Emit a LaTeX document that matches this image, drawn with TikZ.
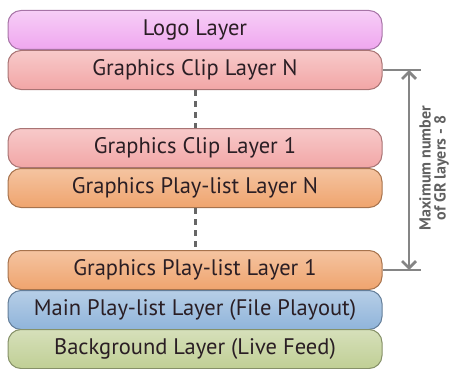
\documentclass[tikz,border=0pt]{standalone}
\usepackage{fontspec}
\setmainfont{PT Sans}
\usetikzlibrary{arrows.meta}
\definecolor{txt}{HTML}{2A1E24}
\definecolor{arrgray}{HTML}{858585}
\tikzset{
  layer/.style={draw=#1!70!black, line width=1pt, rounded corners=13pt, minimum width=374pt, minimum height=39pt, inner sep=0pt, font=\fontsize{22.5}{24}\selectfont, text=txt},
  logo/.style={layer=logoc, top color=logoc!55!white, bottom color=logoc},
  clip/.style={layer=clipc, top color=clipc!60!white, bottom color=clipc},
  play/.style={layer=playc, top color=playc!65!white, bottom color=playc},
  mainl/.style={layer=mainc, top color=mainc!65!white, bottom color=mainc},
  back/.style={layer=backc, top color=backc!65!white, bottom color=backc},
  dots/.style={draw=black!60, line width=3pt, dash pattern=on 6pt off 5pt},
  measure/.style={draw=arrgray, line width=2.8pt},
}
\definecolor{logoc}{HTML}{EFA6EF}
\definecolor{clipc}{HTML}{F2A6A6}
\definecolor{playc}{HTML}{EFA46E}
\definecolor{mainc}{HTML}{8FB4DA}
\definecolor{backc}{HTML}{C0CF95}
\begin{document}
\begin{tikzpicture}[x=1pt,y=-1pt]
\useasboundingbox (0,0) rectangle (452,369);
\node[logo]  (logo)  at (195,30)  {Logo Layer};
\node[clip]  (clipN) at (195,70)  {Graphics Clip Layer N};
\node[clip]  (clip1) at (195,148) {Graphics Clip Layer 1};
\node[play]  (playN) at (195,188) {Graphics Play-list Layer N};
\node[play]  (play1) at (195,270) {Graphics Play-list Layer 1};
\node[mainl] (main)  at (195,310) {Main Play-list Layer (File Playout)};
\node[back]  (back)  at (195,349) {Background Layer (Live Feed)};
\draw[dots] (clipN.south) -- (clip1.north);
\draw[dots] (playN.south) -- (play1.north);
\coordinate (tr) at (421,70);
\coordinate (br) at (421,270);
\coordinate (ta) at (409,70);
\coordinate (ba) at (409,270);
\draw[measure] (clipN.east) -- (tr);
\draw[measure] (play1.east) -- (br);
\draw[measure, {Straight Barb[length=7pt,width=14pt]}-{Straight Barb[length=7pt,width=14pt]}] (ta) -- (ba);
\node[rotate=90, align=center, font=\fontsize{16}{15}\selectfont\bfseries, text=black!62, inner sep=0pt] (lbl) at (434,168) {Maximum number\\of GR layers - 8};
\end{tikzpicture}
\end{document}
